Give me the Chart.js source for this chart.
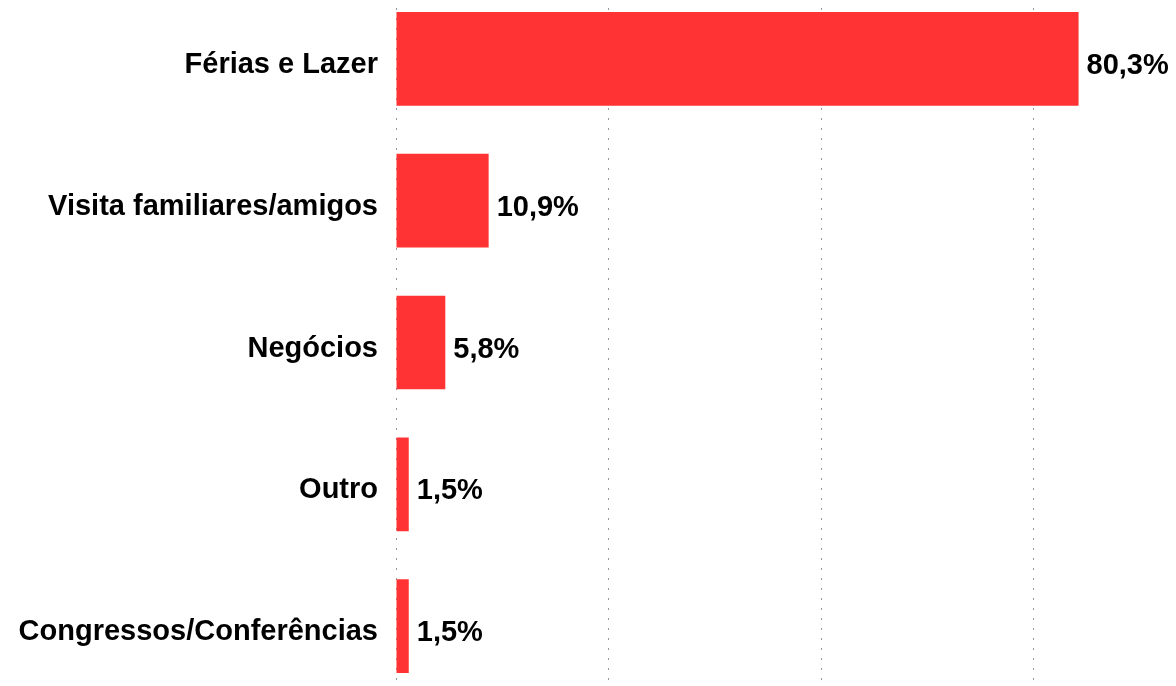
<!DOCTYPE html>
<html>
<head>
<meta charset="utf-8">
<script src="https://cdn.jsdelivr.net/npm/chart.js@4.4.1/dist/chart.umd.min.js"></script>
<style>
  html, body { margin: 0; padding: 0; background: #fff; overflow: hidden; width: 1176px; height: 686px; }
  #wrap { position: absolute; left: 0; top: -12px; width: 1250px; height: 709px; }
</style>
</head>
<body>
<div id="wrap"><canvas id="chart"></canvas></div>
<script>
const categories = ['Férias e Lazer', 'Visita familiares/amigos', 'Negócios', 'Outro', 'Congressos/Conferências'];
const shares = [80.3, 10.9, 5.8, 1.5, 1.5];
const gridTicks = [0, 25, 50, 75, 100];

const FONT = '"Liberation Sans", Arial, sans-serif';

// writes "80,3%" next to each bar
const valueLabels = {
  id: 'valueLabels',
  afterDatasetsDraw(chart) {
    const ctx = chart.ctx;
    const meta = chart.getDatasetMeta(0);
    ctx.save();
    ctx.font = 'bold 29px ' + FONT;
    ctx.fillStyle = '#000';
    ctx.textAlign = 'left';
    ctx.textBaseline = 'middle';
    meta.data.forEach((bar, i) => {
      const txt = shares[i].toFixed(1).replace('.', ',') + '%';
      ctx.fillText(txt, bar.x + 8, bar.y + 7);
    });
    ctx.restore();
  }
};

new Chart(document.getElementById('chart').getContext('2d'), {
  type: 'bar',
  data: {
    labels: categories,
    datasets: [{
      data: shares,
      backgroundColor: '#ff3333',
      borderWidth: 0,
      barPercentage: 0.661,
      categoryPercentage: 1.0
    }]
  },
  options: {
    indexAxis: 'y',
    responsive: true,
    maintainAspectRatio: false,
    animation: false,
    layout: { padding: { left: 0, right: 4, top: 0, bottom: 0 } },
    plugins: { legend: { display: false }, tooltip: { enabled: false } },
    scales: {
      x: {
        min: 0,
        max: 100,
        afterBuildTicks: scale => { scale.ticks = gridTicks.map(v => ({ value: v })); },
        ticks: { display: false },
        border: { display: false, dash: [2, 8] },
        grid: { color: '#999999', lineWidth: 1, drawTicks: false },
        afterFit: scale => { scale.height = 0; }
      },
      y: {
        border: { display: false },
        grid: { display: false, drawTicks: false },
        ticks: { color: '#000', padding: 18, labelOffset: 6, font: { family: FONT, size: 29, weight: 'bold' } },
        afterFit: scale => {
          scale.width = 396;
          scale.paddingTop = 0;
          scale.paddingBottom = 0;
        }
      }
    }
  },
  plugins: [valueLabels]
});
</script>
</body>
</html>
